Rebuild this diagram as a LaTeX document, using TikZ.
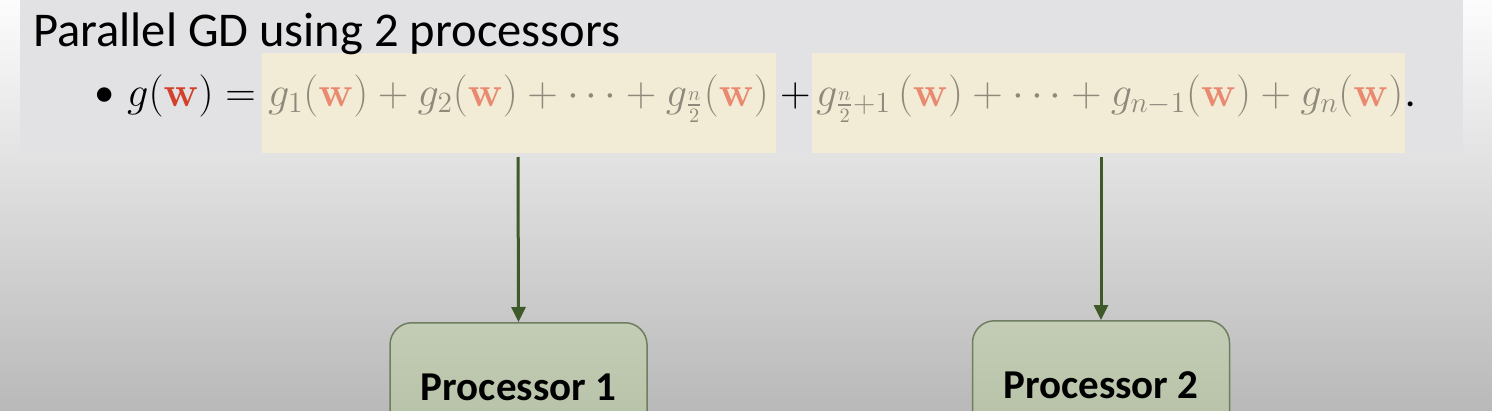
\documentclass[tikz,border=0pt]{standalone}
\usepackage{amsmath}
\usepackage{graphicx}
\usepackage[no-math]{fontspec}
\setmainfont{Carlito}
\usetikzlibrary{arrows.meta}
\definecolor{panel}{HTML}{E2E1E3}
\definecolor{bgtop}{HTML}{FCFCFC}
\definecolor{bgmid}{HTML}{E9E9E9}
\definecolor{bgbot}{HTML}{B9B9B9}
\definecolor{hlfill}{HTML}{F2EBD6}
\definecolor{mgrey}{HTML}{8E8A7B}
\definecolor{wred}{HTML}{D3402B}
\definecolor{wpink}{HTML}{E98A70}
\definecolor{arrgreen}{HTML}{3E5A28}
\definecolor{proctop}{HTML}{C3CDB5}
\definecolor{procbot}{HTML}{B2BEA4}
\definecolor{procline}{HTML}{6F7D60}
\newcommand{\wrd}{\textcolor{wred}{\mathbf{w}}}
\newcommand{\wpk}{\textcolor{wpink}{\mathbf{w}}}
\newcommand{\bigmath}[1]{\scalebox{2.04}{\fontsize{20}{24}\selectfont #1}}
\begin{document}
\begin{tikzpicture}[x=1pt,y=-1pt,
  titletext/.style={anchor=base west, inner sep=0pt, font=\fontsize{48.5}{54}\selectfont},
  mathtext/.style={anchor=base west, inner sep=0pt},
  hlbox/.style={anchor=north west, fill=hlfill, draw=none, inner sep=0pt},
  arr/.style={draw=arrgreen, line width=3pt, -{Triangle[length=15pt,width=14pt]}},
  proc/.style={anchor=north, draw=procline, line width=1.5pt, rounded corners=22pt,
    top color=proctop, bottom color=procbot, minimum width=257pt, inner xsep=0pt, inner ysep=0pt,
    text height=78pt, text depth=60pt, font=\fontsize{41}{46}\selectfont\bfseries}
]
\useasboundingbox (0,0) rectangle (1492,410);
\clip (0,0) rectangle (1492,410);
\shade[top color=bgtop, middle color=bgmid, bottom color=bgbot] (0,0) rectangle (1492,410);
\fill[panel] (20,0) rectangle (1463,153);
\node[hlbox, minimum width=514pt, minimum height=100pt] (h1) at (262,53) {};
\node[hlbox, minimum width=593pt, minimum height=100pt] (h2) at (812,53) {};
\node[titletext] (title) at (33,46) {Parallel GD using 2 processors};
\node[mathtext] (bullet) at (94,106) {\bigmath{•}};
\node[mathtext] (lhs) at (127,106) {\bigmath{$g(\wrd) =$}};
\node[mathtext, text=mgrey] (part1) at (268,106) {\bigmath{$g_1(\wpk) + g_2(\wpk) + \cdots + g_{\frac{n}{2}}(\wpk)$}};
\node[mathtext] (plus) at (780,106) {\bigmath{$+$}};
\node[mathtext, text=mgrey] (part2) at (816,106) {\bigmath{$g_{\frac{n}{2}+1}\,(\wpk) + \cdots + g_{n-1}(\wpk) + g_n(\wpk)$}};
\node[mathtext] (dot) at (1405,106) {\bigmath{.}};
\coordinate (a1) at (518,157);
\coordinate (a2) at (1101,157);
\node[proc] (p1) at (518.5,322) {Processor 1};
\node[proc] (p2) at (1101,320) {Processor 2};
\draw[arr] (a1) -- (p1.north);
\draw[arr] (a2) -- (p2.north);
\end{tikzpicture}
\end{document}
